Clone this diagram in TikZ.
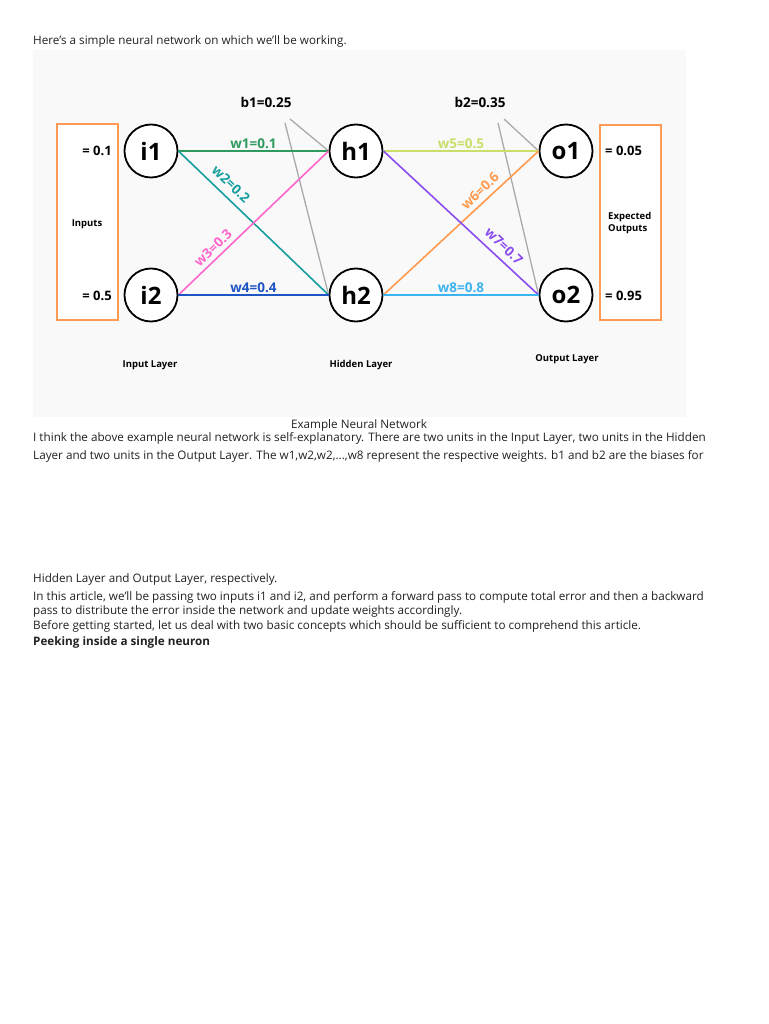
\documentclass[tikz,border=0pt]{standalone}
\usepackage{fontspec}
\setmainfont{Open Sans}
\definecolor{bgc}{HTML}{F9F9F9}
\definecolor{orng}{HTML}{FF9A55}
\definecolor{wone}{HTML}{2E9A5E}
\definecolor{wtwo}{HTML}{169E9E}
\definecolor{wthree}{HTML}{FF66CC}
\definecolor{wfour}{HTML}{1E55C4}
\definecolor{wfive}{HTML}{C8E06A}
\definecolor{wsix}{HTML}{FF9A4E}
\definecolor{wseven}{HTML}{8A4CF0}
\definecolor{weight}{HTML}{3DB4F2}
\definecolor{biasc}{HTML}{AAAAAA}
\definecolor{bodyc}{HTML}{222222}
\tikzset{
  neuron/.style={circle,draw=black,line width=1.8pt,fill=white,minimum size=53pt,inner sep=0pt,font=\fontsize{24}{24}\selectfont\bfseries},
  wline/.style={line width=1.6pt},
  wlab/.style={font=\fontsize{13.5}{14}\selectfont\bfseries,inner sep=2pt},
  biasline/.style={biasc,line width=1.3pt},
  biaslab/.style={font=\fontsize{13.5}{14}\selectfont\bfseries},
  valtxt/.style={font=\fontsize{13}{14}\selectfont\bfseries,inner sep=0pt},
  smalllab/.style={font=\fontsize{9.5}{12}\selectfont\bfseries,inner sep=0pt,align=left},
  obox/.style={draw=orng,line width=2pt,fill=white},
  bodytxt/.style={font=\fontsize{11.7}{13}\selectfont,text=bodyc,inner sep=0pt,anchor=base west}
}
\begin{document}
\begin{tikzpicture}[x=1pt,y=-1pt]
\useasboundingbox (0,0) rectangle (768,1024);
\fill[white] (0,0) rectangle (768,1024);
\fill[bgc] (33,50) rectangle (686,417);

% boxes
\draw[obox] (57,124) rectangle (118,320);
\draw[obox] (600,125) rectangle (661,320);
\node[valtxt,anchor=east] (v1) at (112,151) {= 0.1};
\node[valtxt,anchor=east] (v2) at (112,296) {= 0.5};
\node[smalllab] (inp) at (87,224) {Inputs};
\node[valtxt,anchor=west] (v3) at (605,151) {= 0.05};
\node[valtxt,anchor=west] (v4) at (605,296) {= 0.95};
\node[smalllab,anchor=west] (exo) at (608,223) {Expected\\Outputs};

% neurons
\node[neuron] (i1) at (151,151) {i1};
\node[neuron] (i2) at (151,295) {i2};
\node[neuron] (h1) at (356,151) {h1};
\node[neuron] (h2) at (356,295) {h2};
\node[neuron] (o1) at (566,151) {o1};
\node[neuron] (o2) at (566,295) {o2};

% bias
\node[biaslab] (b1) at (266,102) {b1=0.25};
\node[biaslab] (b2) at (480,102) {b2=0.35};
\coordinate (b1a) at (285,123);
\coordinate (b1b) at (290,119);
\coordinate (b2a) at (498,123);
\coordinate (b2b) at (504,119);
\draw[biasline] (b1a) -- (h2.west);
\draw[biasline] (b1b) -- (h1.west);
\draw[biasline] (b2a) -- (o2.west);
\draw[biasline] (b2b) -- (o1.west);

% weights
\draw[wline,wone] (i1.east) -- node[wlab,above,text=wone] (w1) {w1=0.1} (h1.west);
\draw[wline,wtwo] (i1.east) -- (h2.west);
\draw[wline,wthree] (i2.east) -- (h1.west);
\draw[wline,wfour] (i2.east) -- node[wlab,above,text=wfour] (w4) {w4=0.4} (h2.west);
\draw[wline,wfive] (h1.east) -- node[wlab,above,text=wfive] (w5) {w5=0.5} (o1.west);
\draw[wline,wsix] (h2.east) -- (o1.west);
\draw[wline,wseven] (h1.east) -- (o2.west);
\draw[wline,weight] (h2.east) -- node[wlab,above,text=weight] (w8) {w8=0.8} (o2.west);
\node[wlab,rotate=-43.6,text=wtwo] (w2) at (231,184) {w2=0.2};
\node[wlab,rotate=43.6,text=wthree] (w3) at (213,248) {w3=0.3};
\node[wlab,rotate=43.6,text=wsix] (w6) at (480,191) {w6=0.6};
\node[wlab,rotate=-43.6,text=wseven] (w7) at (504,246) {w7=0.7};

% layer labels
\node[smalllab] (l1) at (150,365) {Input Layer};
\node[smalllab] (l2) at (361,365) {Hidden Layer};
\node[smalllab] (l3) at (567,359) {Output Layer};

% body text
\node[bodytxt] (t0) at (33,45) {Here's a simple neural network on which we'll be working.};
\node[font=\fontsize{11.7}{13}\selectfont,text=bodyc,inner sep=0pt,anchor=base] (cap) at (359,428) {Example Neural Network};
\node[bodytxt] (t1) at (33,441) {I think the above example neural network is self-explanatory. There are two units in the Input Layer, two units in the Hidden};
\node[bodytxt] (t2) at (33,459) {Layer and two units in the Output Layer. The w1,w2,w2,...,w8 represent the respective weights. b1 and b2 are the biases for};
\node[bodytxt] (t3) at (33,582) {Hidden Layer and Output Layer, respectively.};
\node[bodytxt] (t4) at (33,600) {In this article, we'll be passing two inputs i1 and i2, and perform a forward pass to compute total error and then a backward};
\node[bodytxt] (t5) at (33,614) {pass to distribute the error inside the network and update weights accordingly.};
\node[bodytxt] (t6) at (33,629) {Before getting started, let us deal with two basic concepts which should be sufficient to comprehend this article.};
\node[bodytxt,font=\fontsize{11.7}{13}\selectfont\bfseries] (t7) at (33,645) {Peeking inside a single neuron};
\end{tikzpicture}
\end{document}
